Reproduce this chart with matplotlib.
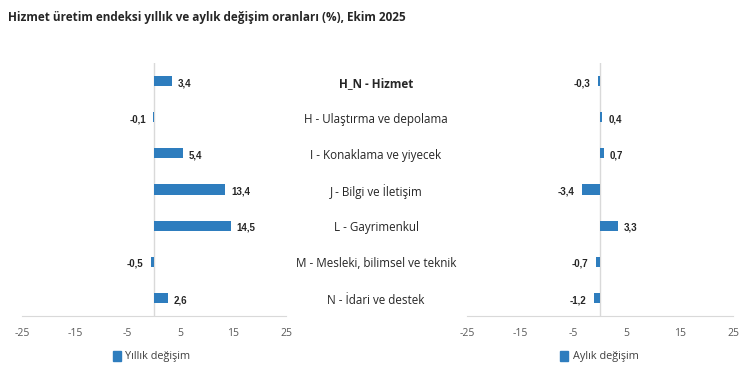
import numpy as np
import matplotlib.pyplot as plt
import matplotlib.transforms as mtransforms
from matplotlib.patches import Rectangle

# --------------------------------
title = "Hizmet üretim endeksi yıllık ve aylık değişim oranları (%), Ekim 2025"
categories = ["H_N - Hizmet", "H - Ulaştırma ve depolama", "I - Konaklama ve yiyecek",
              "J - Bilgi ve İletişim", "L - Gayrimenkul", "M - Mesleki, bilimsel ve teknik",
              "N - İdari ve destek"]
yillik = [3.4, -0.1, 5.4, 13.4, 14.5, -0.5, 2.6]
aylik = [-0.3, 0.4, 0.7, -3.4, 3.3, -0.7, -1.2]
xticks = [-25, -15, -5, 5, 15, 25]
legend_names = ["Yıllık değişim", "Aylık değişim"]

bar_color = '#2E7DBE'
grid_color = '#D9D9D9'
font = 'Open Sans'

fig = plt.figure(figsize=(7.5, 3.78), dpi=100)
fig.patch.set_facecolor('white')

fig.text(8/750, 1 - 18/378, title, fontsize=8.5, fontweight='bold', family=font,
         color='#262626', ha='left', va='center')

bottom = 1 - 316/378
height = (316 - 63)/378
ax1 = fig.add_axes([22/750, bottom, 264/750, height])
ax2 = fig.add_axes([467/750, bottom, 266/750, height])

y = np.arange(len(categories))


# --------------------------------
def draw_panel(ax, values):
    ax.barh(y, values, height=0.28, color=bar_color, zorder=3)
    ax.set_xlim(-25, 25)
    ax.set_ylim(len(categories) - 0.5, -0.5)
    ax.axvline(0, color=grid_color, lw=1, zorder=1)
    for s in ['top', 'right', 'left']:
        ax.spines[s].set_visible(False)
    ax.spines['bottom'].set_color(grid_color)
    ax.set_yticks([])
    ax.set_xticks(xticks)
    ax.set_xticklabels([str(t) for t in xticks], family=font, fontsize=7.5, color='#595959')
    ax.tick_params(axis='x', length=0, pad=9)
    ax.patch.set_alpha(0)
    for yi, v in zip(y, values):
        lab = ('%.1f' % v).replace('.', ',')
        off = 4.5 if v >= 0 else -5.5
        ax.annotate(lab, (v, yi), xytext=(off, -1.5), textcoords='offset points',
                    ha='left' if v >= 0 else 'right', va='center', fontsize=7,
                    fontweight='bold', family='Liberation Sans', color='#262626')


draw_panel(ax1, yillik)
draw_panel(ax2, aylik)

# category labels in the middle
trans = mtransforms.blended_transform_factory(fig.transFigure, ax1.transData)
for i, c in enumerate(categories):
    fig.text(376/750, i + 0.06, c, transform=trans, ha='center', va='center', family=font,
             fontsize=8.4, color='#262626', fontweight='bold' if i == 0 else 'normal')

# legends
for (sx, tx), name in zip([(113, 125), (560, 573)], legend_names):
    fig.patches.append(Rectangle((sx/750, 1 - 361/378), 8/750, 10/378,
                                 transform=fig.transFigure, color=bar_color))
    fig.text(tx/750, 1 - 356/378, name, family=font, fontsize=7.8, color='#404040',
             ha='left', va='center')

fig.savefig('out.png', dpi=100, facecolor='white')
